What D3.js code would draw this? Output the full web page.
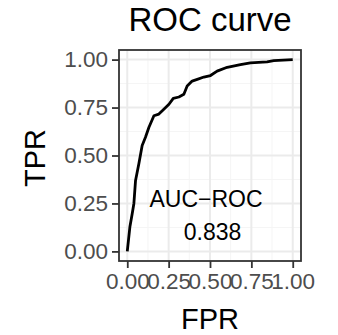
<!DOCTYPE html>
<html>
<head>
<meta charset="utf-8">
<script src="https://cdn.jsdelivr.net/npm/d3@7"></script>
<style>
  body { margin: 0; background: #fff; }
  text { font-family: "Liberation Sans", Arial, sans-serif; }
</style>
</head>
<body>
<div id="chart"></div>
<script>
// ROC curve points
const fpr = [0, 0.016, 0.030, 0.040, 0.050, 0.070, 0.090, 0.110, 0.131, 0.161, 0.191, 0.221,
    0.252, 0.278, 0.312, 0.342, 0.362, 0.392, 0.423, 0.463, 0.503, 0.543, 0.604, 0.684,
    0.744, 0.845, 0.885, 1.0];
const tpr = [0, 0.129, 0.198, 0.250, 0.370, 0.457, 0.552, 0.595, 0.647, 0.707, 0.716, 0.741,
    0.767, 0.798, 0.805, 0.819, 0.862, 0.888, 0.897, 0.909, 0.917, 0.940, 0.960, 0.974,
    0.983, 0.988, 0.995, 1.0];
const majorTicks = [0, 0.25, 0.5, 0.75, 1];
const minorTicks = [0.125, 0.375, 0.625, 0.875];
const tickLabels = ['0.00', '0.25', '0.50', '0.75', '1.00'];
const aucLabel = 'AUC\u2212ROC';
const aucValue = '0.838';

const width = 338, height = 335;
const panel = { left: 119, right: 301, top: 50, bottom: 261 };

const svg = d3.select('#chart').append('svg')
    .attr('width', width)
    .attr('height', height);

const x = d3.scaleLinear().domain([-0.05, 1.05]).range([panel.left, panel.right]);
const y = d3.scaleLinear().domain([-0.05, 1.05]).range([panel.bottom, panel.top]);

// grid
const grid = svg.append('g');
grid.selectAll('.minx').data(minorTicks).enter().append('line')
    .attr('x1', d => x(d)).attr('x2', d => x(d))
    .attr('y1', panel.top).attr('y2', panel.bottom)
    .attr('stroke', '#f5f5f5').attr('stroke-width', 1);
grid.selectAll('.miny').data(minorTicks).enter().append('line')
    .attr('y1', d => y(d)).attr('y2', d => y(d))
    .attr('x1', panel.left).attr('x2', panel.right)
    .attr('stroke', '#f5f5f5').attr('stroke-width', 1);
grid.selectAll('.majx').data(majorTicks).enter().append('line')
    .attr('x1', d => x(d)).attr('x2', d => x(d))
    .attr('y1', panel.top).attr('y2', panel.bottom)
    .attr('stroke', '#ebebeb').attr('stroke-width', 2);
grid.selectAll('.majy').data(majorTicks).enter().append('line')
    .attr('y1', d => y(d)).attr('y2', d => y(d))
    .attr('x1', panel.left).attr('x2', panel.right)
    .attr('stroke', '#ebebeb').attr('stroke-width', 2);

// curve
const pts = fpr.map((f, i) => [f, tpr[i]]);
svg.append('path')
    .datum(pts)
    .attr('fill', 'none')
    .attr('stroke', '#000')
    .attr('stroke-width', 2.8)
    .attr('stroke-linejoin', 'round')
    .attr('d', d3.line().x(d => x(d[0])).y(d => y(d[1])));

// annotation
svg.append('text')
    .attr('x', 206).attr('y', 206.5)
    .attr('text-anchor', 'middle')
    .attr('font-size', 23)
    .text(aucLabel);
svg.append('text')
    .attr('x', 212.5).attr('y', 240)
    .attr('text-anchor', 'middle')
    .attr('font-size', 23)
    .text(aucValue);

// panel border
svg.append('rect')
    .attr('x', panel.left).attr('y', panel.top)
    .attr('width', panel.right - panel.left)
    .attr('height', panel.bottom - panel.top)
    .attr('fill', 'none')
    .attr('stroke', '#333')
    .attr('stroke-width', 1.8);

// axes
const xAxis = d3.axisBottom(x).tickValues(majorTicks)
    .tickFormat((d, i) => tickLabels[i]).tickSize(7).tickPadding(5);
const yAxis = d3.axisLeft(y).tickValues(majorTicks)
    .tickFormat((d, i) => tickLabels[i]).tickSize(7).tickPadding(4);

const gx = svg.append('g').attr('transform', `translate(0,${panel.bottom})`).call(xAxis);
const gy = svg.append('g').attr('transform', `translate(${panel.left},0)`).call(yAxis);
[gx, gy].forEach(g => {
    g.select('.domain').remove();
    g.selectAll('.tick line').attr('stroke', '#333').attr('stroke-width', 1.8);
    g.selectAll('.tick text')
        .attr('fill', '#4d4d4d')
        .attr('font-size', 22.5)
        .attr('font-family', '"Liberation Sans", Arial, sans-serif');
});
gx.selectAll('.tick text').attr('dy', '0.71em');

// titles
svg.append('text')
    .attr('x', 210).attr('y', 31)
    .attr('text-anchor', 'middle')
    .attr('font-size', 33)
    .text('ROC curve');
svg.append('text')
    .attr('x', 210).attr('y', 329)
    .attr('text-anchor', 'middle')
    .attr('font-size', 29)
    .text('FPR');
svg.append('text')
    .attr('transform', 'translate(45,158) rotate(-90)')
    .attr('text-anchor', 'middle')
    .attr('font-size', 29)
    .text('TPR');
</script>
</body>
</html>
